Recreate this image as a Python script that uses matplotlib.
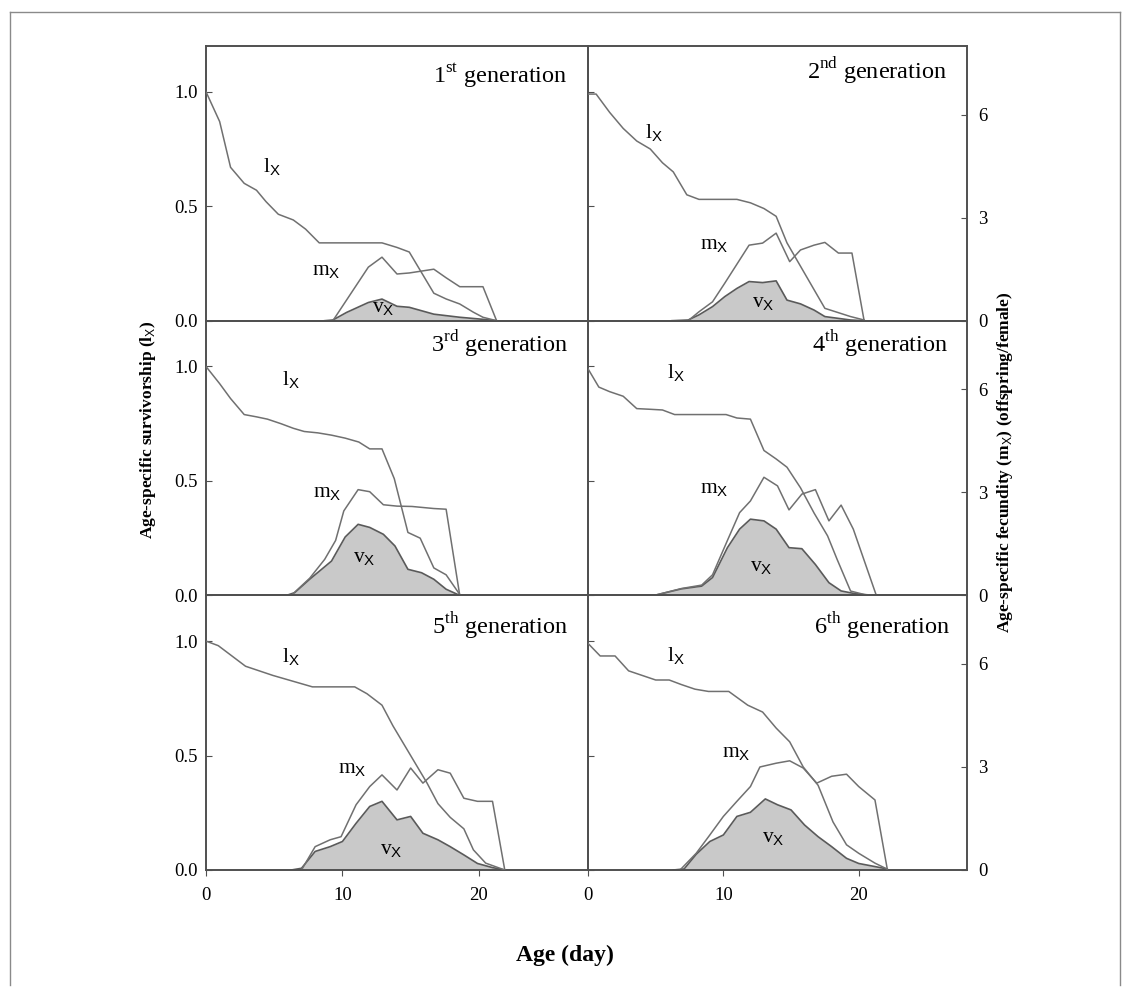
import matplotlib
matplotlib.use("Agg")
import matplotlib.pyplot as plt
from matplotlib.lines import Line2D

plt.rcParams['font.family'] = ['Liberation Serif', 'DejaVu Serif']
plt.rcParams['mathtext.fontset'] = 'custom'
plt.rcParams['mathtext.rm'] = 'Liberation Serif'
plt.rcParams['mathtext.sf'] = 'Liberation Sans'
plt.rcParams['mathtext.bf'] = 'Liberation Serif:bold'

# ---------------- data ----------------
generations = ["1$^{\\rm st}$ generation", "2$^{\\rm nd}$ generation", "3$^{\\rm rd}$ generation",
               "4$^{\\rm th}$ generation", "5$^{\\rm th}$ generation", "6$^{\\rm th}$ generation"]

g1_lx_age = [0, 1.0, 1.8, 2.8, 3.7, 4.4, 5.3, 6.4, 7.3, 8.3, 12.9, 14.0, 14.9, 15.7, 16.7, 17.6, 18.6, 19.6, 20.3, 21.3]
g1_lx = [1.0, 0.87, 0.67, 0.60, 0.57, 0.52, 0.465, 0.44, 0.40, 0.34, 0.34, 0.32, 0.30, 0.22, 0.12, 0.095, 0.073, 0.037, 0.015, 0.0]
g1_mx_age = [9.3, 11.9, 12.9, 14.0, 14.9, 16.7, 17.6, 18.6, 20.3, 21.3]
g1_mx = [0, 1.56, 1.85, 1.36, 1.39, 1.5, 1.25, 0.99, 0.99, 0]
g1_vx_age = [8.7, 9.3, 10.3, 11.9, 12.9, 14.0, 14.9, 16.7, 18.6, 20.3, 21.3]
g1_vx = [0, 0.02, 0.24, 0.53, 0.63, 0.42, 0.39, 0.19, 0.1, 0.04, 0]

g2_lx_age = [0, 0.6, 1.6, 2.6, 3.6, 4.6, 5.5, 6.3, 7.3, 8.2, 11.0, 12.0, 13.0, 13.9, 14.7, 17.5, 19.4, 20.4]
g2_lx = [0.99, 0.99, 0.91, 0.84, 0.785, 0.75, 0.69, 0.65, 0.55, 0.53, 0.53, 0.515, 0.49, 0.456, 0.34, 0.054, 0.018, 0.003]
g2_mx_age = [7.4, 8.2, 9.2, 10.1, 11.9, 12.9, 13.9, 14.9, 15.7, 16.7, 17.5, 18.5, 19.5, 20.4]
g2_mx = [0, 0.26, 0.55, 1.09, 2.2, 2.26, 2.55, 1.72, 2.06, 2.2, 2.28, 1.97, 1.97, 0]
g2_vx_age = [6.2, 7.4, 8.2, 9.2, 10.1, 11.0, 11.9, 12.9, 13.9, 14.7, 15.7, 16.7, 17.5, 19.4, 20.4]
g2_vx = [0, 0.02, 0.17, 0.41, 0.70, 0.94, 1.14, 1.11, 1.16, 0.6, 0.49, 0.31, 0.12, 0.02, 0]

g3_lx_age = [0, 1.0, 1.8, 2.8, 3.7, 4.5, 5.5, 6.4, 7.2, 8.2, 9.2, 10.2, 11.2, 12.0, 12.9, 13.8, 14.8, 15.7, 16.7, 17.6, 18.6]
g3_lx = [1.0, 0.925, 0.86, 0.79, 0.78, 0.77, 0.75, 0.73, 0.716, 0.71, 0.70, 0.687, 0.67, 0.64, 0.64, 0.51, 0.275, 0.25, 0.12, 0.09, 0.004]
g3_mx_age = [6.25, 7.6, 8.7, 9.5, 10.1, 11.15, 12.0, 13.0, 14.0, 15.1, 16.7, 17.6, 18.6]
g3_mx = [0, 0.5, 1.05, 1.6, 2.46, 3.08, 3.02, 2.64, 2.6, 2.59, 2.53, 2.51, 0]
g3_vx_age = [5.9, 6.5, 7.6, 9.2, 10.2, 11.15, 12.0, 13.0, 13.85, 14.8, 15.8, 16.7, 17.6, 18.6]
g3_vx = [0, 0.08, 0.47, 1.0, 1.7, 2.07, 1.98, 1.78, 1.44, 0.76, 0.66, 0.47, 0.18, 0]

g4_lx_age = [0, 0.8, 1.6, 2.6, 3.6, 4.6, 5.5, 6.4, 7.4, 10.2, 11.0, 12.0, 13.0, 13.9, 14.7, 15.7, 16.7, 17.7, 18.4, 19.4, 20.4, 21.3]
g4_lx = [0.99, 0.91, 0.89, 0.87, 0.816, 0.813, 0.81, 0.79, 0.79, 0.79, 0.775, 0.77, 0.633, 0.596, 0.56, 0.47, 0.36, 0.26, 0.158, 0.019, 0.004, 0]
g4_mx_age = [4.9, 6.9, 8.4, 9.2, 10.3, 11.2, 12.0, 13.0, 14.0, 14.85, 15.8, 16.8, 17.8, 18.7, 19.6, 21.3]
g4_mx = [0, 0.2, 0.3, 0.6, 1.6, 2.41, 2.75, 3.44, 3.19, 2.49, 2.95, 3.08, 2.17, 2.63, 1.93, 0]
g4_vx_age = [4.9, 6.9, 8.4, 9.2, 10.3, 11.2, 12.0, 13.0, 13.9, 14.85, 15.8, 16.8, 17.8, 18.7, 19.6, 20.9]
g4_vx = [0, 0.19, 0.27, 0.52, 1.39, 1.93, 2.22, 2.17, 1.93, 1.39, 1.36, 0.9, 0.37, 0.13, 0.06, 0]

g5_lx_age = [0, 0.9, 2.9, 4.9, 7.8, 10.9, 11.8, 12.9, 13.7, 15.0, 16.2, 17.0, 17.9, 18.9, 19.6, 20.5, 21.9]
g5_lx = [1.0, 0.98, 0.89, 0.85, 0.80, 0.80, 0.77, 0.72, 0.63, 0.50, 0.38, 0.29, 0.23, 0.18, 0.088, 0.03, 0.0]
g5_mx_age = [7.0, 8.0, 9.1, 9.9, 11.0, 12.0, 12.9, 14.0, 15.0, 15.9, 17.0, 17.9, 18.9, 19.9, 21.0, 21.9]
g5_mx = [0, 0.68, 0.88, 0.97, 1.9, 2.43, 2.77, 2.33, 2.97, 2.53, 2.92, 2.82, 2.09, 2.0, 2.0, 0]
g5_vx_age = [6.25, 7.0, 8.0, 9.1, 10.0, 11.0, 12.0, 12.9, 14.0, 15.0, 15.9, 17.0, 17.9, 18.9, 19.9, 21.0, 21.9]
g5_vx = [0, 0.05, 0.54, 0.68, 0.83, 1.36, 1.85, 2.0, 1.46, 1.56, 1.07, 0.88, 0.68, 0.44, 0.19, 0.07, 0]

g6_lx_age = [0, 0.9, 2.0, 3.0, 4.0, 5.0, 6.0, 6.9, 7.9, 8.9, 10.4, 11.8, 12.9, 13.9, 14.9, 15.9, 17.0, 18.1, 19.1, 20.0, 21.2, 22.1]
g6_lx = [0.99, 0.935, 0.935, 0.87, 0.85, 0.83, 0.83, 0.81, 0.79, 0.78, 0.78, 0.72, 0.69, 0.62, 0.56, 0.45, 0.37, 0.21, 0.11, 0.073, 0.03, 0.004]
g6_mx_age = [6.8, 8.0, 9.0, 10.0, 11.0, 12.0, 12.7, 13.9, 14.9, 15.9, 16.9, 18.0, 19.1, 20.0, 21.2, 22.1]
g6_mx = [0, 0.49, 1.02, 1.56, 2.0, 2.43, 3.0, 3.11, 3.18, 2.97, 2.53, 2.73, 2.79, 2.43, 2.04, 0.05]
g6_vx_age = [6.3, 7.1, 8.0, 9.0, 10.0, 11.0, 12.0, 13.1, 14.0, 15.0, 16.0, 17.0, 18.0, 19.1, 20.0, 21.2, 22.1]
g6_vx = [0, 0.03, 0.46, 0.83, 1.02, 1.56, 1.68, 2.07, 1.9, 1.75, 1.31, 0.97, 0.68, 0.34, 0.19, 0.1, 0.03]

panels = [
    (g1_lx_age, g1_lx, g1_mx_age, g1_mx, g1_vx_age, g1_vx),
    (g2_lx_age, g2_lx, g2_mx_age, g2_mx, g2_vx_age, g2_vx),
    (g3_lx_age, g3_lx, g3_mx_age, g3_mx, g3_vx_age, g3_vx),
    (g4_lx_age, g4_lx, g4_mx_age, g4_mx, g4_vx_age, g4_vx),
    (g5_lx_age, g5_lx, g5_mx_age, g5_mx, g5_vx_age, g5_vx),
    (g6_lx_age, g6_lx, g6_mx_age, g6_mx, g6_vx_age, g6_vx),
]

# label positions (axes fraction): lx, mx, vx
label_pos = [
    ((0.148, 0.54), (0.277, 0.164), (0.435, 0.03)),
    ((0.15, 0.665), (0.295, 0.26), (0.433, 0.047)),
    ((0.20, 0.764), (0.28, 0.357), (0.385, 0.12)),
    ((0.208, 0.79), (0.295, 0.37), (0.427, 0.087)),
    ((0.20, 0.756), (0.345, 0.35), (0.455, 0.058)),
    ((0.208, 0.76), (0.354, 0.41), (0.46, 0.10)),
]
title_pos = [(0.945, 0.866), (0.947, 0.88), (0.948, 0.884), (0.95, 0.887), (0.948, 0.858), (0.955, 0.86)]

lx_ticks = [0.0, 0.5, 1.0]
mx_ticks = [0, 3, 6]
x_ticks = [0, 10, 20]

# ---------------- figure ----------------
W, H = 1133, 994
fig = plt.figure(figsize=(W / 100, H / 100), dpi=100)

LINE = '#707070'
SPINE = '#505050'
FILL = '#c9c9c9'

col_left = [206, 588]
col_right = [588, 967]
row_top = [46, 320.7, 595.3]
row_h = 274.7

for i, (la, lv, ma, mv, va, vv) in enumerate(panels):
    r, c = divmod(i, 2)
    x0 = col_left[c] / W
    w = (col_right[c] - col_left[c]) / W
    y0 = 1 - (row_top[r] + row_h) / H
    h = row_h / H
    ax = fig.add_axes([x0, y0, w, h])
    ax2 = ax.twinx()
    ax.set_xlim(0, 28)
    ax.set_ylim(0, 1.2)
    ax2.set_ylim(0, 8)
    ax2.set_xlim(0, 28)

    ax2.fill_between(va, vv, 0, color=FILL, linewidth=0, zorder=1)
    ax2.plot(va, vv, color='#5a5a5a', lw=1.2, zorder=2)
    ax2.plot(ma, mv, color=LINE, lw=1.1, zorder=3)
    ax.plot(la, lv, color=LINE, lw=1.1, zorder=3)
    ax.set_zorder(ax2.get_zorder() + 1)
    ax.patch.set_visible(False)

    for a in (ax, ax2):
        for s in a.spines.values():
            s.set_color(SPINE)
            s.set_linewidth(1.2)

    ax.set_yticks(lx_ticks)
    ax2.set_yticks(mx_ticks)
    ax.set_xticks(x_ticks)
    ax.tick_params(axis='y', direction='in', length=4, color=SPINE, labelsize=13.5, pad=6)
    ax2.tick_params(axis='y', direction='in', length=4, color=SPINE, labelsize=13.5, pad=8)
    ax.tick_params(axis='x', direction='out', length=4, color=SPINE, labelsize=13.5, pad=8)
    ax2.tick_params(axis='x', bottom=False, labelbottom=False)
    if c == 0:
        ax.tick_params(axis='y', labelleft=True)
        ax2.tick_params(axis='y', right=False, labelright=False)
        ax.set_yticklabels(['0.0', '0.5', '1.0'])
    else:
        ax.tick_params(axis='y', labelleft=False)
        ax2.tick_params(axis='y', labelright=True)
    if r < 2:
        ax.tick_params(axis='x', bottom=False, labelbottom=False)

    (lxp, mxp, vxp) = label_pos[i]
    ax.text(lxp[0], lxp[1], r'l$_{\mathsf{X}}$', transform=ax.transAxes, fontsize=15.5,
            ha='left', va='baseline', zorder=5)
    ax.text(mxp[0], mxp[1], r'm$_{\mathsf{X}}$', transform=ax.transAxes, fontsize=15.5,
            ha='left', va='baseline', zorder=5)
    ax.text(vxp[0], vxp[1], r'v$_{\mathsf{X}}$', transform=ax.transAxes, fontsize=15.5,
            ha='left', va='baseline', zorder=5)
    ax.text(title_pos[i][0], title_pos[i][1], generations[i], transform=ax.transAxes,
            fontsize=17.5, ha='right', va='baseline', zorder=5)

fig.text(148 / W, 1 - 430 / H, r'Age-specific survivorship (l$_{\mathsf{X}}$)', rotation=90,
         ha='center', va='center', fontsize=12.5, fontweight='bold')
fig.text(1005 / W, 1 - 462 / H, r'Age-specific fecundity (m$_{\mathsf{X}}$) (offspring/female)',
         rotation=90, ha='center', va='center', fontsize=12.5, fontweight='bold')
fig.text(565 / W, 1 - 955 / H, 'Age (day)', ha='center', va='center', fontsize=17, fontweight='bold')

# outer frame lines
fc = '#8a8a8a'
fig.add_artist(Line2D([10 / W, 1120 / W], [1 - 12 / H, 1 - 12 / H], color=fc, lw=1.0))
fig.add_artist(Line2D([10 / W, 10 / W], [1 - 12 / H, 1 - 985 / H], color=fc, lw=1.0))
fig.add_artist(Line2D([1120 / W, 1120 / W], [1 - 12 / H, 1 - 985 / H], color=fc, lw=1.0))

fig.savefig('out.png', dpi=100)
